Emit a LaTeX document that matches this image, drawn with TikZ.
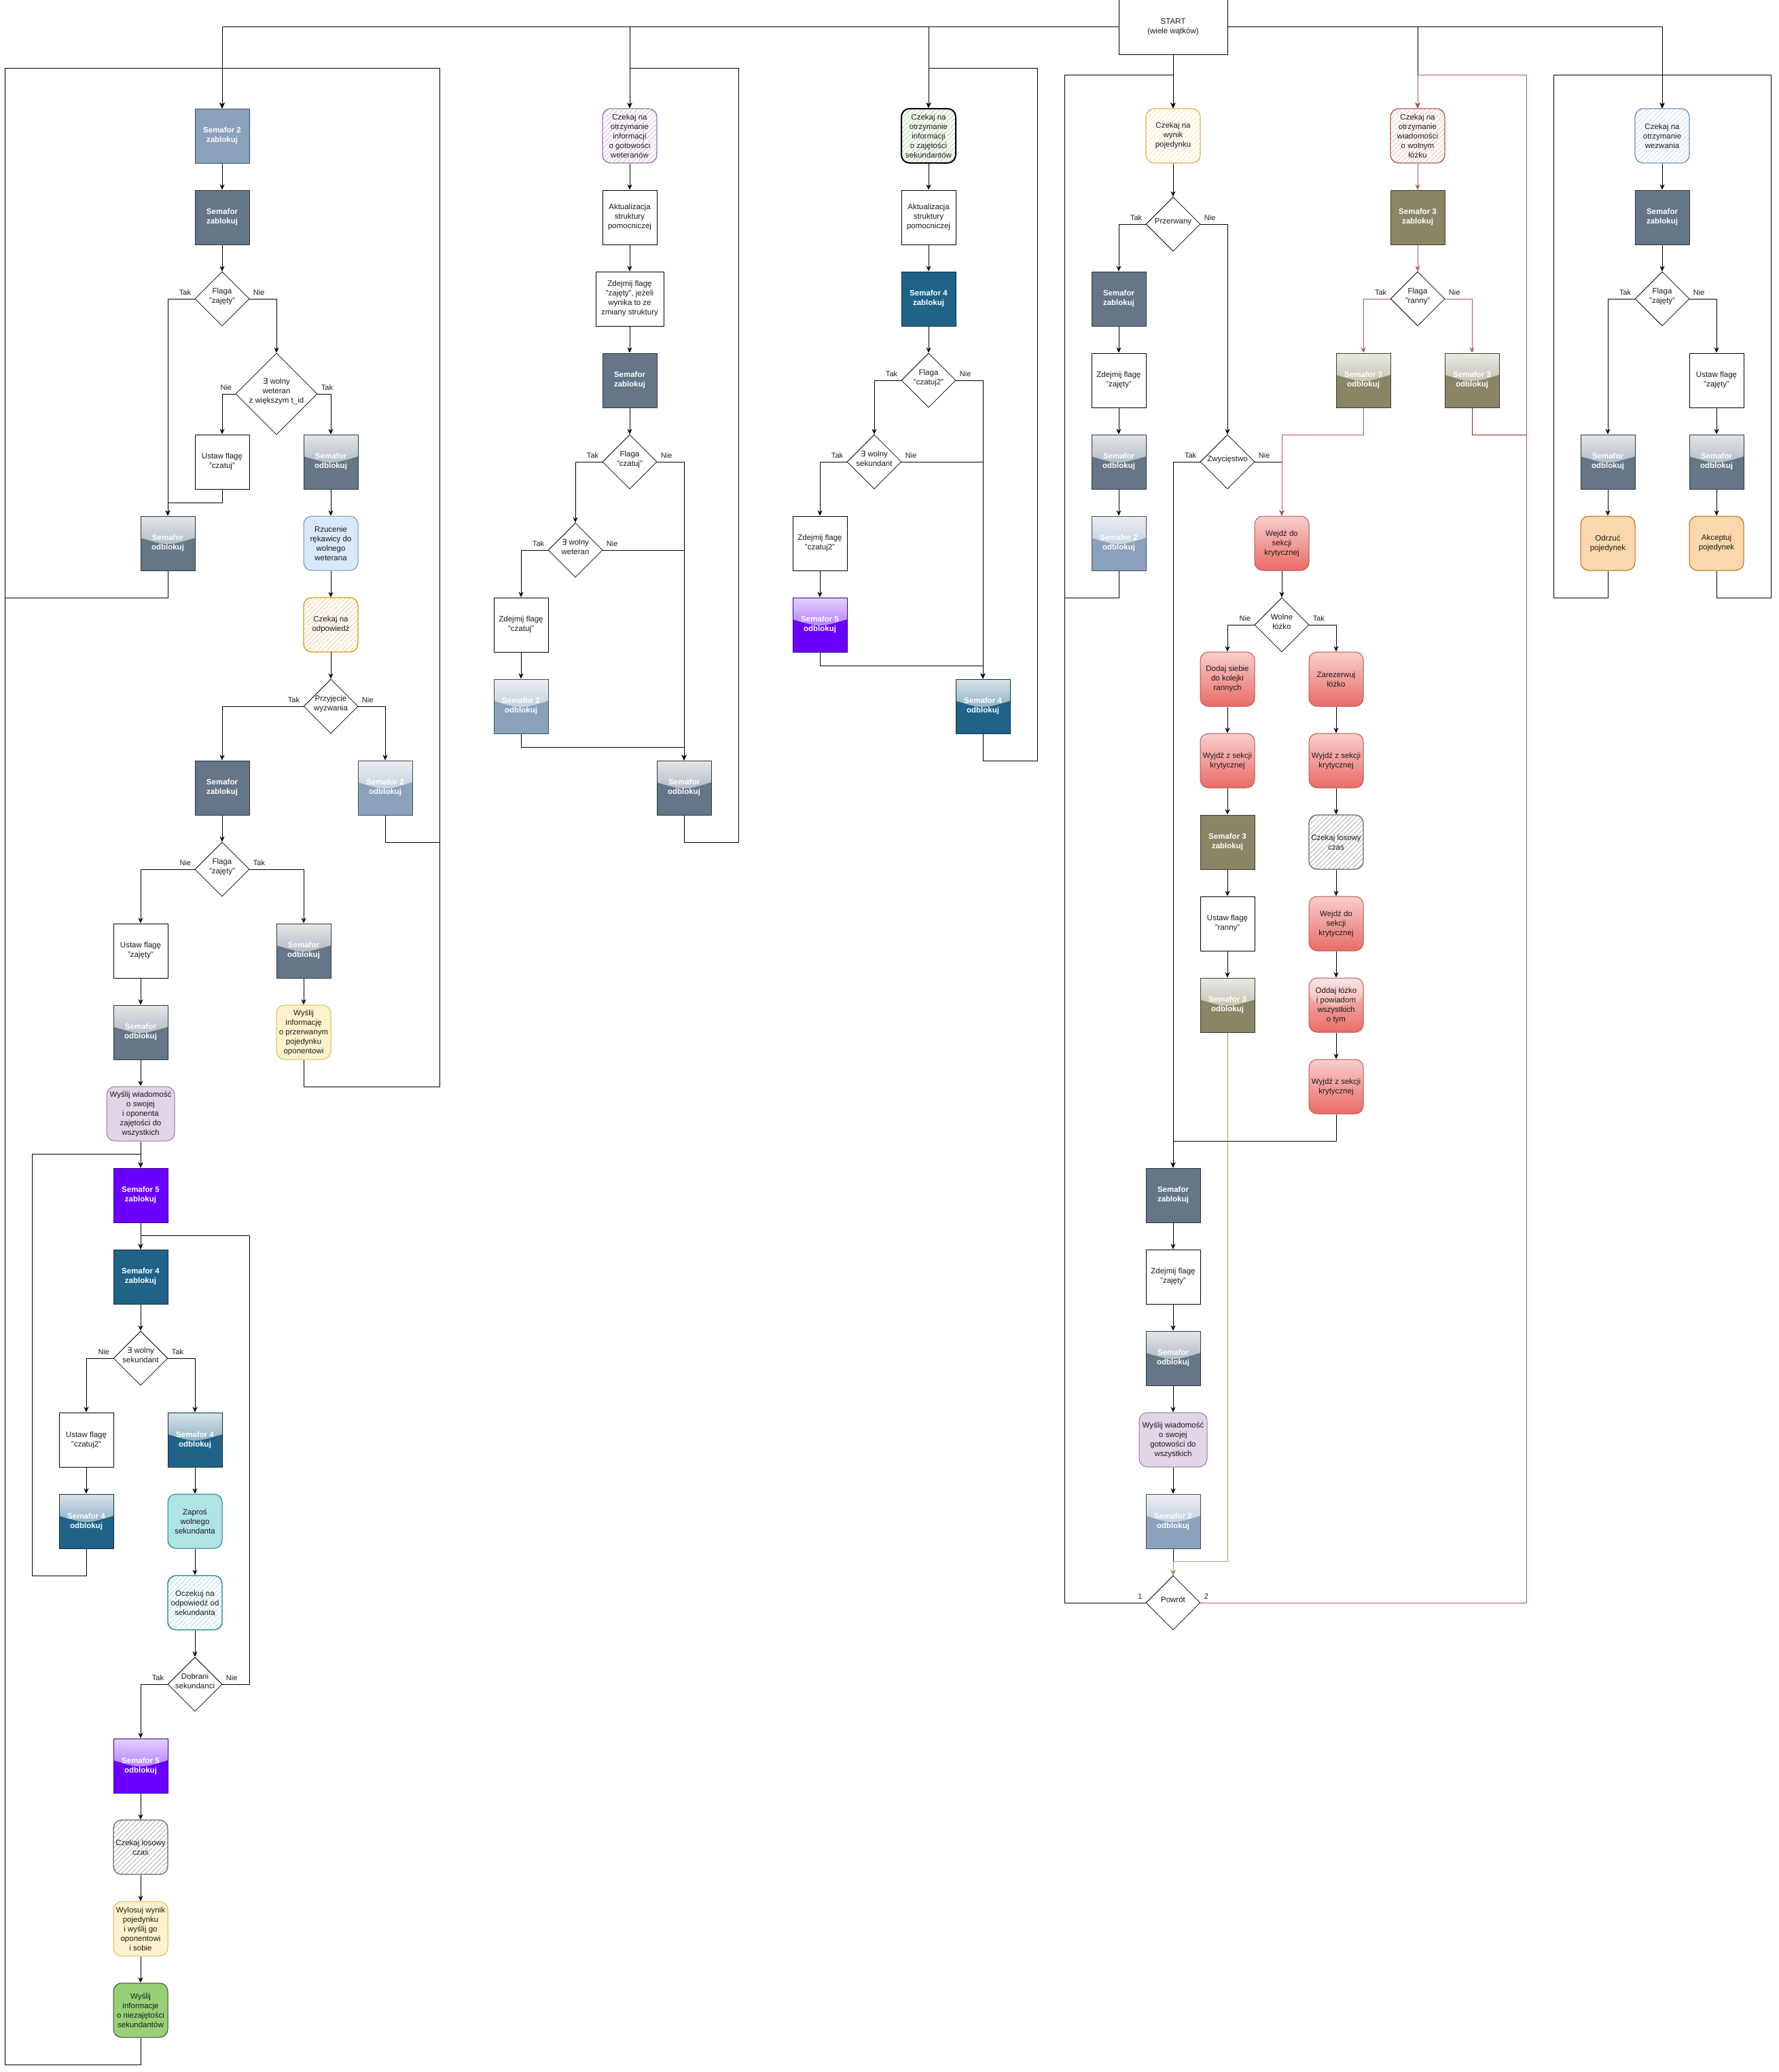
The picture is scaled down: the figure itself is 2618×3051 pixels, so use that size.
\documentclass[tikz,border=0pt]{standalone}
\usepackage{fontspec}
\setmainfont{Liberation Sans}
\newfontfamily\symfont{DejaVu Sans}
\usetikzlibrary{arrows.meta,shapes.geometric,calc,patterns.meta}

\definecolor{semfill}{HTML}{647687}
\definecolor{semtwo}{HTML}{8BA2BC}
\definecolor{semthree}{HTML}{8A8665}
\definecolor{semfour}{HTML}{1F6388}
\definecolor{semfive}{HTML}{6A00FF}
\definecolor{txt}{HTML}{1A1A1A}
\definecolor{linered}{HTML}{B85450}
\definecolor{linedark}{HTML}{8B1A1A}
\definecolor{linegreen}{HTML}{82B366}
\definecolor{redtop}{HTML}{F8CECC}
\definecolor{redbot}{HTML}{EA6B66}
\definecolor{bluefill}{HTML}{DAE8FC}
\definecolor{blueline}{HTML}{6C8EBF}
\definecolor{yellowfill}{HTML}{FFF2CC}
\definecolor{yellowline}{HTML}{D6B656}
\definecolor{purplefill}{HTML}{E1D5E7}
\definecolor{purpleline}{HTML}{9673A6}
\definecolor{tealfill}{HTML}{B0E3E6}
\definecolor{tealline}{HTML}{0E8088}
\definecolor{greenfill}{HTML}{97D077}
\definecolor{greenline}{HTML}{3A4A33}
\definecolor{orangefill}{HTML}{FAD7AC}
\definecolor{orangeline}{HTML}{B46504}
\definecolor{orangedark}{HTML}{D79B00}
\definecolor{grayline}{HTML}{666666}
\definecolor{hatchorange}{HTML}{F2C28C}
\definecolor{hatchpurple}{HTML}{C9B1D6}
\definecolor{hatchgreen}{HTML}{9BCB8A}
\definecolor{hatchteal}{HTML}{9ED8DB}
\definecolor{hatchgray}{HTML}{A0A0A0}
\definecolor{hatchyellow}{HTML}{F0DFA0}
\definecolor{hatchred}{HTML}{F0B0AD}
\definecolor{hatchblue}{HTML}{C0D4EE}

\newcommand{\nodefont}{\fontsize{11.5}{14}\selectfont}
\newcommand{\lblfont}{\fontsize{11}{13}\selectfont}
\newcommand{\dlabel}[1]{\makebox[0pt]{\smash{\begin{tabular}{@{}c@{}}#1\end{tabular}}}}
\newcommand{\istn}{{\symfont ∃}}

\begin{document}
\begin{tikzpicture}[x=1pt, y=-1pt,
    base/.style={draw, line width=1pt, minimum width=80pt, minimum height=80pt, inner sep=1pt,
      align=center, font=\nodefont, text=txt},
    box/.style={base, fill=white},
    widebox/.style={minimum width=100pt},
    semlock/.style={base, fill=#1, draw=#1!45!black, text=white, font=\nodefont\bfseries},
    glass/.style={path picture={
      \shade[top color=white!82!#1, bottom color=#1!78!white]
        (path picture bounding box.north west)
        -- ($(path picture bounding box.north west)!0.4!(path picture bounding box.south west)$)
        .. controls ($(path picture bounding box.center)!0.1!(path picture bounding box.south)$)
        .. ($(path picture bounding box.north east)!0.4!(path picture bounding box.south east)$)
        -- (path picture bounding box.north east) -- cycle;}},
    semfree/.style={semlock=#1, glass=#1},
    soft/.style 2 args={base, rounded corners=12pt, draw=#1, fill=#2},
    hatch/.style 2 args={base, rounded corners=12pt, draw=#1, line width=1.3pt,
      pattern={Lines[angle=45, distance=5pt, line width=0.7pt]}, pattern color=#2},
    crit/.style={base, rounded corners=12pt, draw=linered, top color=redtop, bottom color=redbot},
    dec/.style={draw, shape=diamond, line width=0.8pt, minimum width=80pt, minimum height=80pt,
      inner sep=0pt, fill=white, font=\nodefont, text=txt},
    flow/.style={draw, line width=1pt, -{Stealth[length=8pt, width=7pt, inset=2.5pt]}},
    lw/.style={pos=0, anchor=south east, inner sep=0pt, xshift=-5pt, yshift=5pt, font=\lblfont, text=txt},
    le/.style={pos=0, anchor=south west, inner sep=0pt, xshift=5pt, yshift=5pt, font=\lblfont, text=txt}
  ]
  \useasboundingbox (0,0) rectangle (2618,3051);

  \coordinate (railA) at (7,100);
  \coordinate (railB) at (647,100);
  \coordinate (railC) at (1087,100);
  \coordinate (railD) at (1527,100);
  \coordinate (railE) at (1567,110);
  \coordinate (railF) at (2247,110);
  \coordinate (railG) at (2287,110);
  \coordinate (railH) at (2607,110);

  \node[box, minimum width=160pt] (start) at (1727,40) {START\\(wiele wątków)};

  % watek 1: weteran
  \node[semlock=semtwo]  (a1)  at (327,200)  {Semafor 2\\zablokuj};
  \node[semlock=semfill] (a2)  at (327,320)  {Semafor\\zablokuj};
  \node[dec]             (a3)  at (327,440)  {\dlabel{Flaga\\"zajęty"}};
  \node[dec, minimum width=120pt, minimum height=120pt] (a4) at (407,580) {\dlabel{\istn{} wolny\\weteran\\z większym t\_id}};
  \node[box]             (a5)  at (327,680)  {Ustaw flagę\\"czatuj"};
  \node[semfree=semfill] (a6)  at (487,680)  {Semafor\\odblokuj};
  \node[semfree=semfill] (a7)  at (247,800)  {Semafor\\odblokuj};
  \node[soft={blueline}{bluefill}] (a8) at (487,800) {Rzucenie\\rękawicy do\\wolnego\\weterana};
  \node[hatch={orangedark}{hatchorange}] (a9) at (487,920) {Czekaj na\\odpowiedź};
  \node[dec]             (a10) at (487,1040) {\dlabel{Przyjęcie\\wyzwania}};
  \node[semlock=semfill] (a11) at (327,1160) {Semafor\\zablokuj};
  \node[semfree=semtwo]  (a12) at (567,1160) {Semafor 2\\odblokuj};
  \node[dec]             (a13) at (327,1280) {\dlabel{Flaga\\"zajęty"}};
  \node[box]             (a14) at (207,1400) {Ustaw flagę\\"zajęty"};
  \node[semfree=semfill] (a15) at (447,1400) {Semafor\\odblokuj};
  \node[semfree=semfill] (a16) at (207,1520) {Semafor\\odblokuj};
  \node[soft={yellowline}{yellowfill}] (a17) at (447,1520) {Wyślij\\informację\\o przerwanym\\pojedynku\\oponentowi};
  \node[soft={purpleline}{purplefill}, widebox] (a18) at (207,1640) {Wyślij wiadomość\\o swojej\\i oponenta\\zajętości do\\wszystkich};
  \node[semlock=semfive] (a19) at (207,1760) {Semafor 5\\zablokuj};
  \node[semlock=semfour] (a20) at (207,1880) {Semafor 4\\zablokuj};
  \node[dec]             (a21) at (207,2000) {\dlabel{\istn{} wolny\\sekundant}};
  \node[box]             (a22) at (127,2120) {Ustaw flagę\\"czatuj2"};
  \node[semfree=semfour] (a23) at (287,2120) {Semafor 4\\odblokuj};
  \node[semfree=semfour] (a24) at (127,2240) {Semafor 4\\odblokuj};
  \node[soft={tealline}{tealfill}] (a25) at (287,2240) {Zaproś\\wolnego\\sekundanta};
  \node[hatch={tealline}{hatchteal}] (a26) at (287,2360) {Oczekuj na\\odpowiedź od\\sekundanta};
  \node[dec]             (a27) at (287,2480) {\dlabel{Dobrani\\sekundanci}};
  \node[semfree=semfive] (a28) at (207,2600) {Semafor 5\\odblokuj};
  \node[hatch={grayline}{hatchgray}] (a29) at (207,2720) {Czekaj losowy\\czas};
  \node[soft={yellowline}{yellowfill}] (a30) at (207,2840) {Wylosuj wynik\\pojedynku\\i wyślij go\\oponentowi\\i sobie};
  \node[soft={greenline}{greenfill}] (a31) at (207,2960) {Wyślij\\informacje\\o niezajętości\\sekundantów};

  % watek 2: gotowosc weteranow
  \node[hatch={purpleline}{hatchpurple}] (b1) at (927,200) {Czekaj na\\otrzymanie\\informacji\\o gotowości\\weteranów};
  \node[box]             (b2)  at (927,320)  {Aktualizacja\\struktury\\pomocniczej};
  \node[box, widebox]    (b3)  at (927,440)  {Zdejmij flagę\\"zajęty", jeżeli\\wynika to ze\\zmiany struktury};
  \node[semlock=semfill] (b4)  at (927,560)  {Semafor\\zablokuj};
  \node[dec]             (b5)  at (927,680)  {\dlabel{Flaga\\"czatuj"}};
  \node[dec]             (b6)  at (847,810)  {\dlabel{\istn{} wolny\\weteran}};
  \node[box]             (b7)  at (767,920)  {Zdejmij flagę\\"czatuj"};
  \node[semfree=semtwo]  (b8)  at (767,1040) {Semafor 2\\odblokuj};
  \node[semfree=semfill] (b9)  at (1007,1160) {Semafor\\odblokuj};

  % watek 3: zajetosc sekundantow
  \node[hatch={black}{hatchgreen}, line width=2pt] (c1) at (1367,200) {Czekaj na\\otrzymanie\\informacji\\o zajętości\\sekundantów};
  \node[box]             (c2)  at (1367,320) {Aktualizacja\\struktury\\pomocniczej};
  \node[semlock=semfour] (c3)  at (1367,440) {Semafor 4\\zablokuj};
  \node[dec]             (c4)  at (1367,560) {\dlabel{Flaga\\"czatuj2"}};
  \node[dec]             (c5)  at (1287,680) {\dlabel{\istn{} wolny\\sekundant}};
  \node[box]             (c6)  at (1207,800) {Zdejmij flagę\\"czatuj2"};
  \node[semfree=semfive] (c7)  at (1207,920) {Semafor 5\\odblokuj};
  \node[semfree=semfour] (c8)  at (1447,1040) {Semafor 4\\odblokuj};

  % watek 4: wynik pojedynku
  \node[hatch={yellowline}{hatchyellow}] (d1) at (1727,200) {Czekaj na\\wynik\\pojedynku};
  \node[dec]             (d2)  at (1727,330) {\dlabel{Przerwany}};
  \node[semlock=semfill] (d3)  at (1647,440) {Semafor\\zablokuj};
  \node[box]             (d4)  at (1647,560) {Zdejmij flagę\\"zajęty"};
  \node[semfree=semfill] (d5)  at (1647,680) {Semafor\\odblokuj};
  \node[semfree=semtwo]  (d6)  at (1647,800) {Semafor 2\\odblokuj};
  \node[dec]             (d7)  at (1807,680) {\dlabel{Zwycięstwo}};
  \node[crit]            (d8)  at (1887,800) {Wejdź do\\sekcji\\krytycznej};
  \node[dec]             (d9)  at (1887,920) {\dlabel{Wolne\\łóżko}};
  \node[crit]            (d10) at (1807,1000) {Dodaj siebie\\do kolejki\\rannych};
  \node[crit]            (d11) at (1807,1120) {Wyjdź z sekcji\\krytycznej};
  \node[semlock=semthree] (d12) at (1807,1240) {Semafor 3\\zablokuj};
  \node[box]             (d13) at (1807,1360) {Ustaw flagę\\"ranny"};
  \node[semfree=semthree] (d14) at (1807,1480) {Semafor 3\\odblokuj};
  \node[crit]            (d15) at (1967,1000) {Zarezerwuj\\łóżko};
  \node[crit]            (d16) at (1967,1120) {Wyjdź z sekcji\\krytycznej};
  \node[hatch={grayline}{hatchgray}] (d17) at (1967,1240) {Czekaj losowy\\czas};
  \node[crit]            (d18) at (1967,1360) {Wejdź do\\sekcji\\krytycznej};
  \node[crit, glass=redbot] (d19) at (1967,1480) {Oddaj łóżko\\i powiadom\\wszystkich\\o tym};
  \node[crit]            (d20) at (1967,1600) {Wyjdź z sekcji\\krytycznej};
  \node[semlock=semfill] (d21) at (1727,1760) {Semafor\\zablokuj};
  \node[box]             (d22) at (1727,1880) {Zdejmij flagę\\"zajęty"};
  \node[semfree=semfill] (d23) at (1727,2000) {Semafor\\odblokuj};
  \node[soft={purpleline}{purplefill}, widebox] (d24) at (1727,2120) {Wyślij wiadomość\\o swojej\\gotowości do\\wszystkich};
  \node[semfree=semtwo]  (d25) at (1727,2240) {Semafor 2\\odblokuj};
  \node[dec]             (d26) at (1727,2360) {\dlabel{Powrót}};

  % watek 5: wolne lozko
  \node[hatch={linered}{hatchred}] (e1) at (2087,200) {Czekaj na\\otrzymanie\\wiadomości\\o wolnym\\łóżku};
  \node[semlock=semthree] (e2) at (2087,320) {Semafor 3\\zablokuj};
  \node[dec]             (e3)  at (2087,440) {\dlabel{Flaga\\"ranny"}};
  \node[semfree=semthree] (e4) at (2007,560) {Semafor 3\\odblokuj};
  \node[semfree=semthree] (e5) at (2167,560) {Semafor 3\\odblokuj};

  % watek 6: wezwanie
  \node[hatch={blueline}{hatchblue}] (f1) at (2447,200) {Czekaj na\\otrzymanie\\wezwania};
  \node[semlock=semfill] (f2)  at (2447,320) {Semafor\\zablokuj};
  \node[dec]             (f3)  at (2447,440) {\dlabel{Flaga\\"zajęty"}};
  \node[box]             (f4)  at (2527,560) {Ustaw flagę\\"zajęty"};
  \node[semfree=semfill] (f5)  at (2367,680) {Semafor\\odblokuj};
  \node[semfree=semfill] (f6)  at (2527,680) {Semafor\\odblokuj};
  \node[soft={orangeline}{orangefill}] (f7) at (2367,800) {Odrzuć\\pojedynek};
  \node[soft={orangeline}{orangefill}] (f8) at (2527,800) {Akceptuj\\pojedynek};

  % start
  \draw[flow] (start.west) -| (a1.north);
  \draw[flow] (start.west) -| (b1.north);
  \draw[flow] (start.west) -| (c1.north);
  \draw[flow] (start) -- (d1);
  \draw[flow] (start.east) -| (e1.north);
  \draw[flow] (start.east) -| (f1.north);

  % watek 1
  \draw[flow] (a1) -- (a2);
  \draw[flow] (a2) -- (a3);
  \draw[flow] (a3.west) -| node[lw] {Tak} (a7.north);
  \draw[flow] (a3.east) -| node[le] {Nie} (a4.north);
  \draw[flow] (a4.west) -| node[lw] {Nie} (a5.north);
  \draw[flow] (a4.east) -| node[le] {Tak} (a6.north);
  \draw[flow] (a5.south) -- ++(0,20) -| (a7.north);
  \draw[flow] (a6) -- (a8);
  \draw[flow] (a8) -- (a9);
  \draw[flow] (a9) -- (a10);
  \draw[flow] (a10.west) -| node[lw] {Tak} (a11.north);
  \draw[flow] (a10.east) -| node[le] {Nie} (a12.north);
  \draw[flow] (a11) -- (a13);
  \draw[flow] (a13.west) -| node[lw] {Nie} (a14.north);
  \draw[flow] (a13.east) -| node[le] {Tak} (a15.north);
  \draw[flow] (a14) -- (a16);
  \draw[flow] (a15) -- (a17);
  \draw[flow] (a16) -- (a18);
  \draw[flow] (a18) -- (a19);
  \draw[flow] (a19) -- (a20);
  \draw[flow] (a20) -- (a21);
  \draw[flow] (a21.west) -| node[lw] {Nie} (a22.north);
  \draw[flow] (a21.east) -| node[le] {Tak} (a23.north);
  \draw[flow] (a22) -- (a24);
  \draw[flow] (a23) -- (a25);
  \draw[flow] (a25) -- (a26);
  \draw[flow] (a26) -- (a27);
  \draw[flow] (a27.west) -| node[lw] {Tak} (a28.north);
  \draw[flow] (a27.east) -| node[le] {Nie} ($(a20.north)+(160,-20)$) -| (a20.north);
  \draw[flow] (a28) -- (a29);
  \draw[flow] (a29) -- (a30);
  \draw[flow] (a30) -- (a31);
  \draw[flow] (a24.south) -- ++(0,40) -| ($(a19.north)+(-160,-20)$) -| (a19.north);
  \draw[flow] (a7.south) -- ++(0,40) -| (railA) -| (a1.north);
  \draw[flow] (a31.south) -- ++(0,40) -| (railA) -| (a1.north);
  \draw[flow] (a12.south) -- ++(0,40) -| (railB) -| (a1.north);
  \draw[flow] (a17.south) -- ++(0,40) -| (railB) -| (a1.north);

  % watek 2
  \draw[flow] (b1) -- (b2);
  \draw[flow] (b2) -- (b3);
  \draw[flow] (b3) -- (b4);
  \draw[flow] (b4) -- (b5);
  \draw[flow] (b5.west) -| node[lw] {Tak} (b6.north);
  \draw[flow] (b5.east) -| node[le] {Nie} (b9.north);
  \draw[flow] (b6.west) -| node[lw] {Tak} (b7.north);
  \draw[flow] (b6.east) -| node[le] {Nie} (b9.north);
  \draw[flow] (b7) -- (b8);
  \draw[flow] (b8.south) -- ++(0,20) -| (b9.north);
  \draw[flow] (b9.south) -- ++(0,40) -| (railC) -| (b1.north);

  % watek 3
  \draw[flow] (c1) -- (c2);
  \draw[flow] (c2) -- (c3);
  \draw[flow] (c3) -- (c4);
  \draw[flow] (c4.west) -| node[lw] {Tak} (c5.north);
  \draw[flow] (c4.east) -| node[le] {Nie} (c8.north);
  \draw[flow] (c5.west) -| node[lw] {Tak} (c6.north);
  \draw[flow] (c5.east) -| node[le] {Nie} (c8.north);
  \draw[flow] (c6) -- (c7);
  \draw[flow] (c7.south) -- ++(0,20) -| (c8.north);
  \draw[flow] (c8.south) -- ++(0,40) -| (railD) -| (c1.north);

  % watek 4
  \draw[flow] (d1) -- (d2);
  \draw[flow] (d2.west) -| node[lw] {Tak} (d3.north);
  \draw[flow] (d2.east) -| node[le] {Nie} (d7.north);
  \draw[flow] (d3) -- (d4);
  \draw[flow] (d4) -- (d5);
  \draw[flow] (d5) -- (d6);
  \draw[flow] (d6.south) -- ++(0,40) -| (railE) -| (d1.north);
  \draw[flow] (d7.west) -| node[lw] {Tak} (d21.north);
  \draw[flow] (d7.east) -| node[le] {Nie} (d8.north);
  \draw[flow] (d8) -- (d9);
  \draw[flow] (d9.west) -| node[lw] {Nie} (d10.north);
  \draw[flow] (d9.east) -| node[le] {Tak} (d15.north);
  \draw[flow] (d10) -- (d11);
  \draw[flow] (d11) -- (d12);
  \draw[flow] (d12) -- (d13);
  \draw[flow] (d13) -- (d14);
  \draw[flow] (d15) -- (d16);
  \draw[flow] (d16) -- (d17);
  \draw[flow] (d17) -- (d18);
  \draw[flow] (d18) -- (d19);
  \draw[flow] (d19) -- (d20);
  \draw[flow] (d20.south) -- ++(0,40) -| (d21.north);
  \draw[flow] (d21) -- (d22);
  \draw[flow] (d22) -- (d23);
  \draw[flow] (d23) -- (d24);
  \draw[flow] (d24) -- (d25);
  \draw[flow] (d25) -- (d26);
  \draw[flow] (d26.west) -| node[lw] {1} (railE) -| (d1.north);
  \draw[flow, draw=linegreen] (d14.south) |- ($(d26.north)+(0,-20)$) -- (d26.north);

  % watek 5
  \draw[flow, draw=linedark] (e5.south) -- ++(0,40) -| (railF) -| (e1.north);
  \draw[flow, draw=linered] (d26.east) -| node[le] {2} (railF) -| (e1.north);
  \draw[flow, draw=linered] (e1) -- (e2);
  \draw[flow, draw=linered] (e2) -- (e3);
  \draw[flow, draw=linered] (e3.west) -| node[lw] {Tak} (e4.north);
  \draw[flow, draw=linered] (e3.east) -| node[le] {Nie} (e5.north);
  \draw[flow, draw=linered] (e4.south) -- ++(0,40) -| (d8.north);

  % watek 6
  \draw[flow] (f1) -- (f2);
  \draw[flow] (f2) -- (f3);
  \draw[flow] (f3.west) -| node[lw] {Tak} (f5.north);
  \draw[flow] (f3.east) -| node[le] {Nie} (f4.north);
  \draw[flow] (f4) -- (f6);
  \draw[flow] (f5) -- (f7);
  \draw[flow] (f6) -- (f8);
  \draw[flow] (f7.south) -- ++(0,40) -| (railG) -| (f1.north);
  \draw[flow] (f8.south) -- ++(0,40) -| (railH) -| (f1.north);
\end{tikzpicture}
\end{document}
